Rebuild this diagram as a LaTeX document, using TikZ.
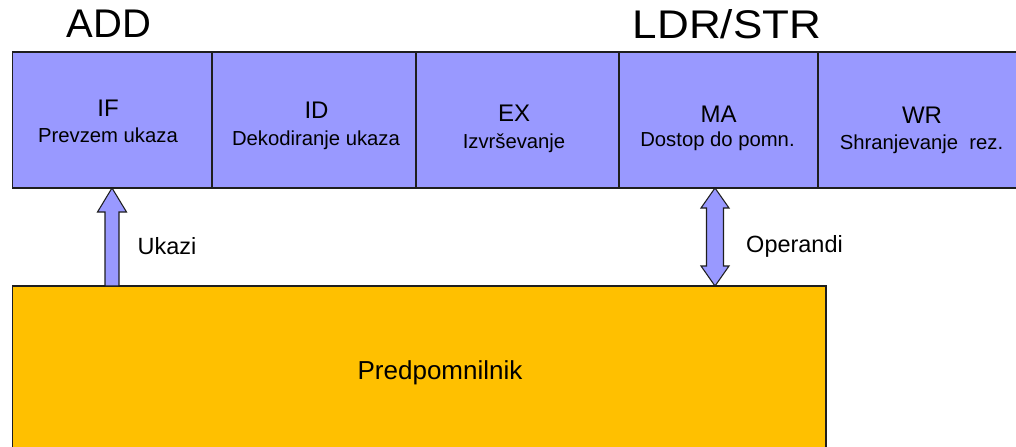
\documentclass[tikz,border=0pt]{standalone}
\usepackage{fontspec}
\usepackage{graphicx}
\setmainfont{Liberation Sans}
\usetikzlibrary{calc}
\definecolor{stageblue}{RGB}{153,153,255}
\definecolor{cacheorange}{RGB}{255,192,0}
\definecolor{edge}{RGB}{30,30,30}
\begin{document}
\begin{tikzpicture}[x=0.75pt,y=-0.75pt,
  stagebox/.style={draw=edge, line width=0.8pt, fill=stageblue, minimum height=102pt, inner sep=0pt, outer sep=0pt, anchor=north west},
  cachebox/.style={draw=edge, line width=1pt, fill=cacheorange, inner sep=0pt, outer sep=0pt, anchor=north west, minimum width=610pt, minimum height=150pt},
  stagename/.style={anchor=base, inner sep=0pt, font=\fontsize{18}{20}\selectfont},
  stagesub/.style={anchor=base, inner sep=0pt, font=\fontsize{15.2}{17}\selectfont},
  title/.style={anchor=base, inner sep=0pt, font=\fontsize{30}{36}\selectfont},
  arrowlabel/.style={anchor=base, inner sep=0pt, font=\fontsize{17.6}{20}\selectfont},
  cachelabel/.style={anchor=base, inner sep=0pt, font=\fontsize{19.5}{22}\selectfont},
  blockarrow/.style={draw=edge, line width=0.8pt, fill=stageblue, line join=miter}]
\useasboundingbox (0,0) rectangle (1016,446);
\clip (0,0) rectangle (1016,446);

% titles
\node[title] (tadd) at (109,37) {ADD};
\node[title] (tldr) at (727,38) {\scalebox{1.1}[1]{LDR/STR}};

% pipeline stages
\node[stagebox, minimum width=149.5pt] (ifbox) at (12.7,52) {};
\node[stagebox, minimum width=153pt] (idbox) at (212,52) {};
\node[stagebox, minimum width=152.25pt] (exbox) at (416,52) {};
\node[stagebox, minimum width=149.25pt] (mabox) at (619,52) {};
\node[stagebox, minimum width=151.5pt] (wrbox) at (818,52) {};

\node[stagename] (ifn) at (108,116) {IF};
\node[stagesub] (ifs) at (108,142) {Prevzem ukaza};
\node[stagename] (idn) at (316.5,118) {ID};
\node[stagesub] (ids) at (316,145) {Dekodiranje ukaza};
\node[stagename] (exn) at (514,121) {EX};
\node[stagesub] (exs) at (514,148) {Izvrševanje};
\node[stagename] (man) at (718.5,122.5) {MA};
\node[stagesub] (mas) at (717.5,146.5) {Dostop do pomn.};
\node[stagename] (wrn) at (922,123) {WR};
\node[stagesub] (wrs) at (921.5,149) {Shranjevanje\ \ rez.};

% cache
\node[cachebox] (cache) at (12.7,286) {};
\node[cachelabel] (cachet) at (440,379) {Predpomnilnik};

% arrow anchors
\coordinate (ukx) at (112,0);
\coordinate (opx) at (715,0);
\coordinate (ua) at (ifbox.south -| ukx);
\coordinate (ub) at (cache.north -| ukx);
\coordinate (oa) at (mabox.south -| opx);
\coordinate (ob) at (cache.north -| opx);

% Ukazi arrow (cache -> IF)
\draw[blockarrow] (ua) -- ($(ua)+(14.5,24)$) -- ($(ua)+(7,24)$) -- ($(ub)+(7,0)$)
  -- ($(ub)+(-7,0)$) -- ($(ua)+(-7,24)$) -- ($(ua)+(-14.5,24)$) -- cycle;
\node[arrowlabel] (uklab) at (167,254) {Ukazi};

% Operandi arrow (MA <-> cache)
\draw[blockarrow] (oa) -- ($(oa)+(14,20)$) -- ($(oa)+(8.5,20)$) -- ($(ob)+(8.5,-20)$)
  -- ($(ob)+(14,-20)$) -- (ob) -- ($(ob)+(-14,-20)$) -- ($(ob)+(-8.5,-20)$)
  -- ($(oa)+(-8.5,20)$) -- ($(oa)+(-14,20)$) -- cycle;
\node[arrowlabel] (oplab) at (794.5,252.7) {Operandi};
\end{tikzpicture}
\end{document}
